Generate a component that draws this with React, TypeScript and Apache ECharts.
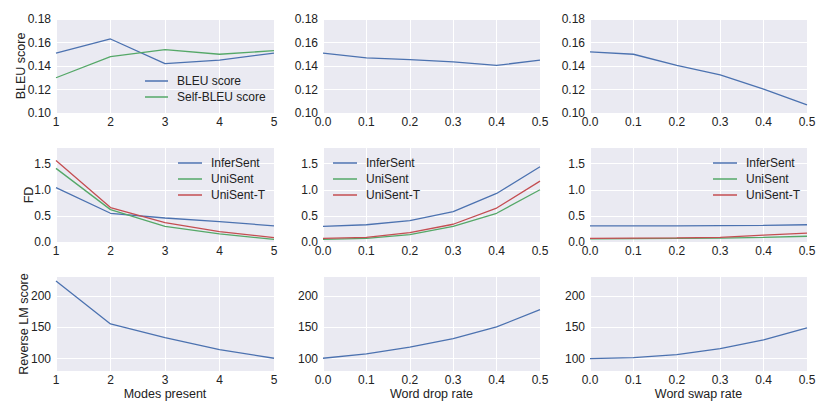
import React, { useEffect, useRef } from "react";
import * as echarts from "echarts";

const modes = [1, 2, 3, 4, 5];
const rates = [0, 0.1, 0.2, 0.3, 0.4, 0.5];

const bleuModes = [0.151, 0.163, 0.142, 0.145, 0.151];
const selfBleuModes = [0.13, 0.148, 0.154, 0.15, 0.153];
const bleuDrop = [0.151, 0.147, 0.1455, 0.1435, 0.1405, 0.145];
const bleuSwap = [0.152, 0.15, 0.1405, 0.1325, 0.1203, 0.107];

const inferModes = [1.04, 0.55, 0.46, 0.39, 0.31];
const uniModes = [1.41, 0.62, 0.3, 0.155, 0.05];
const uniTModes = [1.56, 0.66, 0.37, 0.2, 0.085];
const inferDrop = [0.3, 0.33, 0.41, 0.58, 0.93, 1.44];
const uniDrop = [0.05, 0.07, 0.14, 0.3, 0.55, 1.0];
const uniTDrop = [0.07, 0.09, 0.18, 0.34, 0.65, 1.165];
const inferSwap = [0.31, 0.31, 0.31, 0.315, 0.32, 0.33];
const uniSwap = [0.06, 0.065, 0.07, 0.075, 0.09, 0.11];
const uniTSwap = [0.07, 0.075, 0.08, 0.09, 0.13, 0.17];

const lmModes = [224.6, 155.6, 133.7, 114.4, 100.5];
const lmDrop = [100.5, 107.5, 118.2, 132.1, 150.8, 178.6];
const lmSwap = [100, 101.6, 106.4, 116, 130, 149.2];

const bleuTicks = [0.1, 0.12, 0.14, 0.16, 0.18];
const fdTicks = [0, 0.5, 1.0, 1.5];
const lmTicks = [100, 150, 200];
const modeTicks = [1, 2, 3, 4, 5];
const rateTicks = [0, 0.1, 0.2, 0.3, 0.4, 0.5];

const xNames = ["Modes present", "Word drop rate", "Word swap rate"];
const yNames = ["BLEU score", "FD", "Reverse LM score"];
const legendBleu = ["BLEU score", "Self-BLEU score"];
const legendFD = ["InferSent", "UniSent", "UniSent-T"];

const BLUE = "#4C72B0";
const GREEN = "#55A868";
const RED = "#C44E52";
const FONT = "'Liberation Sans', Arial, sans-serif";
const TXT = "#222222";

export default function App() {
  const ref = useRef<HTMLDivElement>(null);
  useEffect(() => {
    if (!ref.current) return;
    const chart = echarts.init(ref.current, undefined, { renderer: "svg" });

    const lefts = [56, 323, 590];
    const widths = [218, 217, 217];
    const tops = [19, 148, 277];
    const H = 94;

    const grids: any[] = [];
    const xAxes: any[] = [];
    const yAxes: any[] = [];
    const yRanges = [
      { min: 0.1, max: 0.18, ticks: bleuTicks, fmt: (v: number) => v.toFixed(2), gap: 29 },
      { min: 0, max: 1.8, ticks: fdTicks, fmt: (v: number) => v.toFixed(1), gap: 21 },
      { min: 80, max: 231, ticks: lmTicks, fmt: (v: number) => String(Math.round(v)), gap: 26 },
    ];
    const xRanges = [
      { min: 1, max: 5, ticks: modeTicks, fmt: (v: number) => String(Math.round(v)) },
      { min: 0, max: 0.5, ticks: rateTicks, fmt: (v: number) => v.toFixed(1) },
      { min: 0, max: 0.5, ticks: rateTicks, fmt: (v: number) => v.toFixed(1) },
    ];

    for (let r = 0; r < 3; r++) {
      for (let c = 0; c < 3; c++) {
        const gi = r * 3 + c;
        grids.push({
          left: lefts[c],
          top: tops[r],
          width: widths[c],
          height: H,
          show: true,
          backgroundColor: "#EAEAF2",
          borderWidth: 0,
        });
        const xr = xRanges[c];
        xAxes.push({
          type: "value",
          gridIndex: gi,
          min: xr.min,
          max: xr.max,
          axisLine: { show: false },
          axisTick: { show: false, customValues: xr.ticks },
          axisLabel: {
            customValues: xr.ticks,
            formatter: xr.fmt,
            margin: 3,
            fontSize: 12,
            fontFamily: FONT,
            color: TXT,
          },
          splitLine: { show: true, lineStyle: { color: "#ffffff", width: 1 } },
          name: r === 2 ? xNames[c] : "",
          nameLocation: "middle",
          nameGap: 16,
          nameMoveOverlap: false,
          nameTextStyle: { fontSize: 12.5, fontFamily: FONT, color: TXT },
        });
        const yr = yRanges[r];
        yAxes.push({
          type: "value",
          gridIndex: gi,
          min: yr.min,
          max: yr.max,
          axisLine: { show: false },
          axisTick: { show: false, customValues: yr.ticks },
          axisLabel: {
            customValues: yr.ticks,
            formatter: yr.fmt,
            margin: 5,
            fontSize: 12,
            fontFamily: FONT,
            color: TXT,
          },
          splitLine: { show: true, lineStyle: { color: "#ffffff", width: 1 } },
          name: c === 0 ? yNames[r] : "",
          nameLocation: "middle",
          nameGap: yr.gap,
          nameMoveOverlap: false,
          nameTextStyle: { fontSize: 12.5, fontFamily: FONT, color: TXT },
        });
      }
    }

    const zip = (xs: number[], ys: number[]) => xs.map((x, i) => [x, ys[i]]);
    const line = (name: string, gi: number, color: string, data: number[][]) => ({
      type: "line",
      name,
      xAxisIndex: gi,
      yAxisIndex: gi,
      data,
      symbol: "none",
      color,
      itemStyle: { color },
      lineStyle: { color, width: 1.3 },
      silent: true,
    });

    const series = [
      line(legendBleu[0], 0, BLUE, zip(modes, bleuModes)),
      line(legendBleu[1], 0, GREEN, zip(modes, selfBleuModes)),
      line("BLEU drop", 1, BLUE, zip(rates, bleuDrop)),
      line("BLEU swap", 2, BLUE, zip(rates, bleuSwap)),
      line(legendFD[0], 3, BLUE, zip(modes, inferModes)),
      line(legendFD[1], 3, GREEN, zip(modes, uniModes)),
      line(legendFD[2], 3, RED, zip(modes, uniTModes)),
      line(legendFD[0], 4, BLUE, zip(rates, inferDrop)),
      line(legendFD[1], 4, GREEN, zip(rates, uniDrop)),
      line(legendFD[2], 4, RED, zip(rates, uniTDrop)),
      line(legendFD[0], 5, BLUE, zip(rates, inferSwap)),
      line(legendFD[1], 5, GREEN, zip(rates, uniSwap)),
      line(legendFD[2], 5, RED, zip(rates, uniTSwap)),
      line("LM modes", 6, BLUE, zip(modes, lmModes)),
      line("LM drop", 7, BLUE, zip(rates, lmDrop)),
      line("LM swap", 8, BLUE, zip(rates, lmSwap)),
    ];

    const legendCommon = {
      orient: "vertical",
      icon: "rect",
      itemWidth: 24,
      itemHeight: 1.5,
      itemGap: 0,
      padding: 0,
      selectedMode: false,
      textStyle: {
        fontSize: 12,
        fontFamily: FONT,
        color: TXT,
        lineHeight: 16,
        padding: [0, 0, 0, 4],
      },
    };

    chart.setOption({
      animation: false,
      backgroundColor: "#ffffff",
      grid: grids,
      xAxis: xAxes,
      yAxis: yAxes,
      series,
      legend: [
        { ...legendCommon, data: legendBleu, left: 145, top: 73, itemWidth: 23 },
        { ...legendCommon, data: legendFD, left: 178, top: 155 },
        { ...legendCommon, data: legendFD, left: 333, top: 155 },
        { ...legendCommon, data: legendFD, left: 713, top: 155 },
      ],
    });
    return () => chart.dispose();
  }, []);
  return (
    <div
      ref={ref}
      style={{ position: "absolute", left: 0, top: 0, width: 830, height: 415 }}
    />
  );
}
